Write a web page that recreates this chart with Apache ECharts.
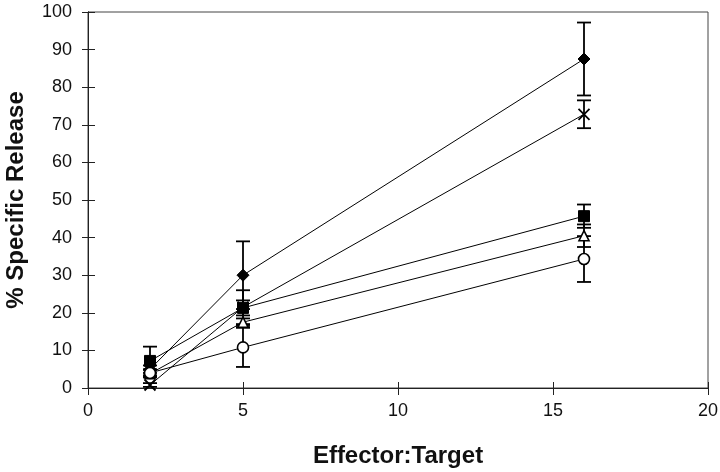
<!DOCTYPE html>
<html>
<head>
<meta charset="utf-8">
<script src="https://cdn.jsdelivr.net/npm/echarts@6/dist/echarts.min.js"></script>
<style>
html,body{margin:0;padding:0;background:#fff;}
#chart{width:720px;height:472px;}
</style>
</head>
<body>
<div id="chart"></div>
<script>
// Effector:Target ratios
const ratios = [2, 5, 16];
// % specific release (mean) and error (+/-) per series
const diamondMean = [5.0, 30.0, 87.5];
const diamondErr  = [1.0, 9.0, 9.7];
const crossMean   = [0.8, 21.5, 72.8];
const crossErr    = [0.5, 4.5, 3.7];
const squareMean  = [7.2, 21.3, 45.7];
const squareErr   = [3.8, 2.0, 3.1];
const triangleMean = [3.8, 17.5, 40.5];
const triangleErr  = [1.0, 1.0, 3.0];
const circleMean  = [4.0, 10.8, 34.3];
const circleErr   = [1.0, 5.2, 6.1];
const xTicks = [0, 5, 10, 15, 20];
const yTicks = [0, 10, 20, 30, 40, 50, 60, 70, 80, 90, 100];

const FONT = '"Liberation Sans", Arial, Helvetica, sans-serif';

function pts(mean) { return ratios.map((x, i) => [x, mean[i]]); }
function errs(mean, err) { return ratios.map((x, i) => [x, mean[i] - err[i], mean[i] + err[i]]); }

function errRender(params, api) {
  const x = api.value(0), lo = api.value(1), hi = api.value(2);
  const a = api.coord([x, hi]), b = api.coord([x, lo]);
  const w = 7;
  const st = { stroke: '#000', lineWidth: 1.8 };
  return {
    type: 'group',
    children: [
      { type: 'line', shape: { x1: a[0], y1: a[1], x2: b[0], y2: b[1] }, style: st },
      { type: 'line', shape: { x1: a[0] - w, y1: a[1], x2: a[0] + w, y2: a[1] }, style: st },
      { type: 'line', shape: { x1: b[0] - w, y1: b[1], x2: b[0] + w, y2: b[1] }, style: st }
    ]
  };
}

function lineSeries(name, mean, symbol, size, filled) {
  return {
    name: name, type: 'line', data: pts(mean), z: 5,
    symbol: symbol, symbolSize: size,
    lineStyle: { color: '#000', width: 1 },
    itemStyle: filled ? { color: '#000', borderColor: '#000', borderWidth: 1 }
                      : { color: '#fff', borderColor: '#000', borderWidth: 1.6 },
    animation: false
  };
}
function errSeries(mean, err) {
  return { type: 'custom', renderItem: errRender, data: errs(mean, err), z: 3, animation: false,
           encode: { x: 0, y: [1, 2] } };
}

const chart = echarts.init(document.getElementById('chart'), null, { renderer: 'canvas' });
const axisCommon = {
  min: 0,
  axisLine: { show: true, lineStyle: { color: '#222', width: 1 } },
  splitLine: { show: false }
};
chart.setOption({
  animation: false,
  backgroundColor: '#fff',
  grid: { left: 88, right: 12, top: 12, bottom: 84, show: true, borderColor: '#444', borderWidth: 1,
          containLabel: false, outerBoundsMode: 'none' },
  xAxis: [
    Object.assign({}, axisCommon, {
      type: 'value', max: 20, interval: 5,
      name: 'Effector:Target', nameLocation: 'middle', nameGap: 56,
      nameTextStyle: { fontFamily: FONT, fontSize: 24, fontWeight: 'bold', color: '#111' },
      axisTick: { show: true, length: 7, lineStyle: { color: '#222' } },
      axisLabel: { fontFamily: FONT, fontSize: 18, color: '#111', margin: 14,
                   formatter: v => xTicks.includes(v) ? String(v) : '' }
    }),
    Object.assign({}, axisCommon, {
      type: 'value', max: 20, interval: 5, position: 'bottom',
      axisTick: { show: true, inside: true, length: 6, lineStyle: { color: '#222' } },
      axisLabel: { show: false }
    })
  ],
  yAxis: [
    Object.assign({}, axisCommon, {
      type: 'value', max: 100, interval: 10,
      name: '% Specific Release', nameLocation: 'middle', nameGap: 60, nameRotate: 90,
      nameTextStyle: { fontFamily: FONT, fontSize: 24, fontWeight: 'bold', color: '#111' },
      axisTick: { show: true, length: 6, lineStyle: { color: '#222' } },
      axisLabel: { fontFamily: FONT, fontSize: 18, color: '#111', margin: 16,
                   formatter: v => yTicks.includes(v) ? String(v) : '' }
    }),
    Object.assign({}, axisCommon, {
      type: 'value', max: 100, interval: 10, position: 'left',
      axisTick: { show: true, inside: true, length: 7, lineStyle: { color: '#222' } },
      axisLabel: { show: false }
    })
  ],
  series: [
    errSeries(diamondMean, diamondErr),
    errSeries(crossMean, crossErr),
    errSeries(squareMean, squareErr),
    errSeries(triangleMean, triangleErr),
    errSeries(circleMean, circleErr),
    lineSeries('diamond', diamondMean, 'diamond', 12, true),
    Object.assign(lineSeries('cross', crossMean, 'path://M0,0L10,10M10,0L0,10', 11, true),
                  { itemStyle: { color: '#000', borderColor: '#000', borderWidth: 1.8 } }),
    lineSeries('square', squareMean, 'rect', 11, true),
    lineSeries('triangle', triangleMean, 'triangle', 10, false),
    lineSeries('circle', circleMean, 'circle', 11, false)
  ]
});
</script>
</body>
</html>
